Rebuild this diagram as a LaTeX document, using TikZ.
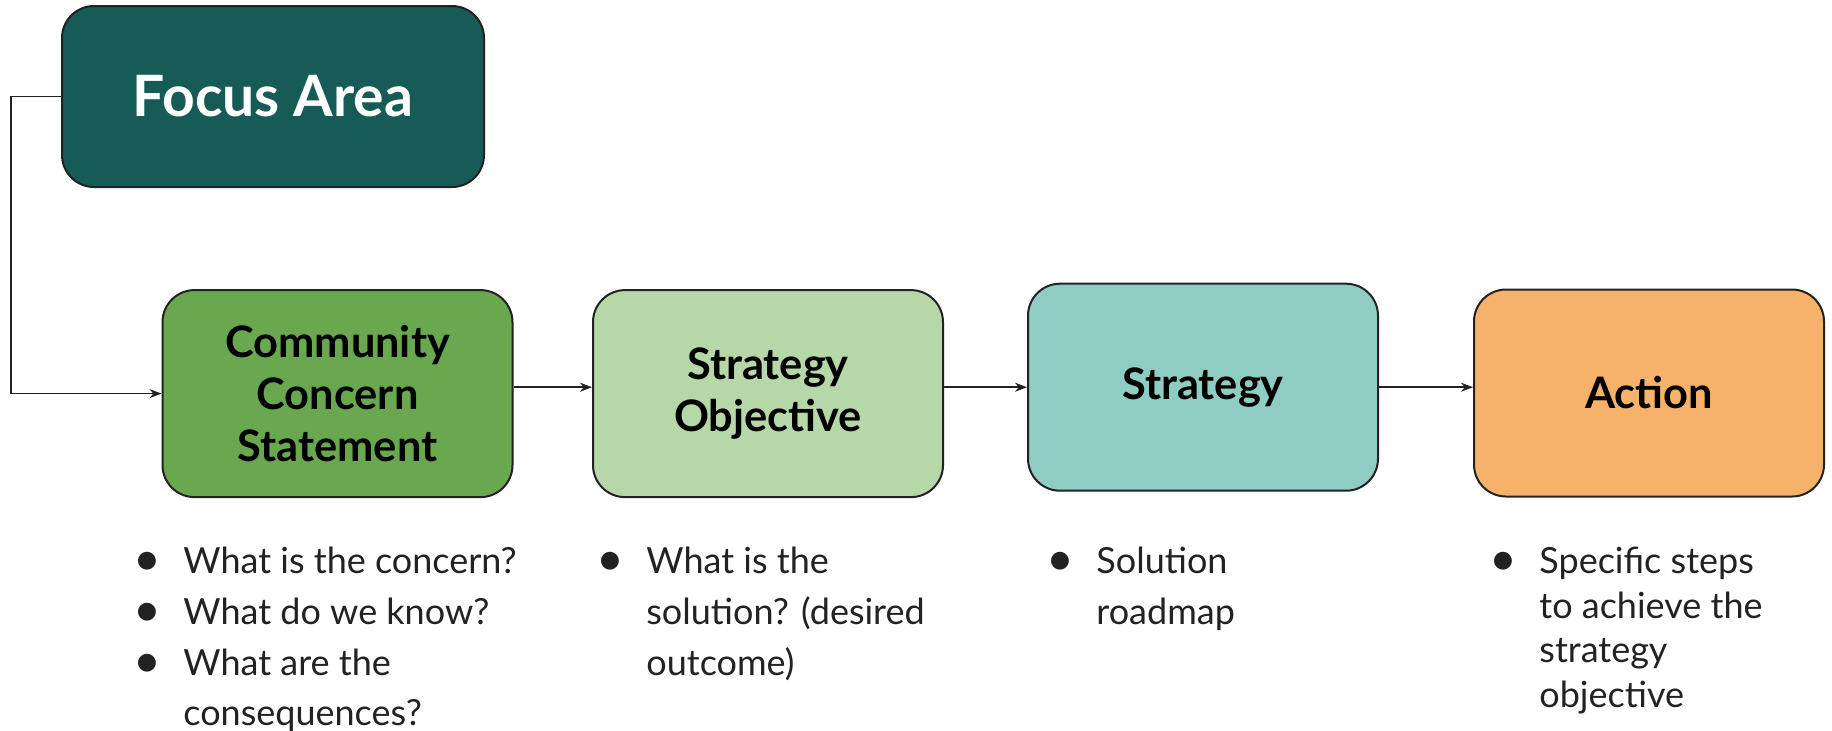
\documentclass[tikz,border=0pt]{standalone}
\usepackage{fontspec}
\setmainfont{Lato}
\usepackage{xcolor}
\usetikzlibrary{arrows.meta}

\definecolor{focusfill}{HTML}{165B55}
\definecolor{concernfill}{HTML}{6AA84F}
\definecolor{objfill}{HTML}{B6D7A8}
\definecolor{stratfill}{HTML}{8FCCC3}
\definecolor{actionfill}{HTML}{F6B26B}
\definecolor{edgegray}{HTML}{222222}
\definecolor{textgray}{HTML}{222222}

\newcommand{\bul}{\llap{\raisebox{-1pt}{\fontsize{24}{18}\selectfont•}\hspace{11pt}}}

\begin{document}
\begin{tikzpicture}[x=0.5pt,y=-0.5pt,
    box/.style={draw=edgegray, line width=1pt, rounded corners=16pt, minimum width=175pt, minimum height=103.5pt, align=center, font=\fontsize{21.7}{26}\selectfont\bfseries},
    conn/.style={draw=edgegray, line width=0.8pt, -{Stealth[length=6pt,width=4.5pt]}},
    items/.style={anchor=north west, inner sep=0pt, align=left, text=textgray, font=\fontsize{18}{25.3}\selectfont}]
    \useasboundingbox (0,0) rectangle (1832,730);

    % top box
    \node[box, fill=focusfill, text=white, minimum width=211pt, minimum height=90.5pt, font=\fontsize{28.5}{32}\selectfont\bfseries] (focus) at (273,96.5) {Focus Area};

    % row of boxes
    \node[box, fill=concernfill] (concern) at (337.5,393.6) {Community\\Concern\\Statement};
    \node[box, fill=objfill] (obj) at (768,393.6) {Strategy\\Objective};
    \node[box, fill=stratfill] (strat) at (1203,387.2) {Strategy};
    \node[box, fill=actionfill] (action) at (1649,393) {Action};

    % connectors
    \draw[conn] (focus.west) -- ++(-50,0) |- (concern.west);
    \draw[conn] (concern.east |- strat.center) -- (obj.west |- strat.center);
    \draw[conn] (obj.east |- strat.center) -- (strat.west);
    \draw[conn] (strat.east) -- (action.west |- strat.center);

    % bullet lists
    \node[items] (concernlist) at (183,547) {\bul What is the concern?\\\bul What do we know?\\\bul What are the\\consequences?};
    \node[items] (objlist) at (646,547) {\bul What is the\\solution? (desired\\outcome)};
    \node[items] (stratlist) at (1096,547) {\bul Solution\\roadmap};
    \node[items, font=\fontsize{18}{22.2}\selectfont] (actionlist) at (1539,547) {\bul Specific steps\\to achieve the\\strategy\\objective};
\end{tikzpicture}
\end{document}
